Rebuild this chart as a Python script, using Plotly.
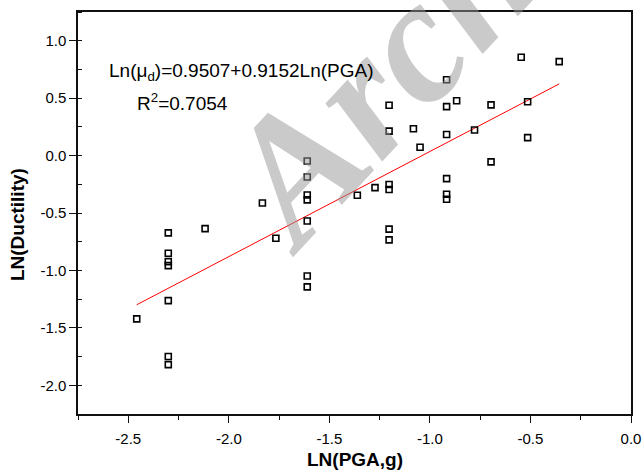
import plotly.graph_objects as go

# ---- data ----
pga_ln = [-2.458, -2.301, -2.301, -2.301, -2.301, -2.301, -2.301, -2.301,
          -2.118, -1.833, -1.766,
          -1.610, -1.610, -1.610, -1.610, -1.610, -1.610, -1.610,
          -1.361, -1.273,
          -1.203, -1.203, -1.203, -1.203, -1.203, -1.203,
          -1.082, -1.049,
          -0.917, -0.917, -0.917, -0.917, -0.917, -0.917,
          -0.867, -0.778, -0.696, -0.696, -0.546, -0.514, -0.514, -0.357]
ductility_ln = [-1.422, -0.673, -0.850, -0.923, -0.958, -1.263, -1.750, -1.820,
                -0.636, -0.413, -0.720,
                -0.047, -0.186, -0.343, -0.386, -0.569, -1.049, -1.143,
                -0.345, -0.279,
                0.438, 0.213, -0.252, -0.295, -0.640, -0.734,
                0.234, 0.073,
                0.660, 0.426, 0.184, -0.201, -0.337, -0.380,
                0.477, 0.223, 0.441, -0.055, 0.856, 0.469, 0.156, 0.818]

fit_intercept = 0.9507
fit_slope = 0.9152
r_squared = 0.7054

x_tick_vals = [-2.5, -2.0, -1.5, -1.0, -0.5, 0.0]
x_tick_text = ["-2.5", "-2.0", "-1.5", "-1.0", "-0.5", "0.0"]
y_tick_vals = [-2.0, -1.5, -1.0, -0.5, 0.0, 0.5, 1.0]
y_tick_text = ["-2.0", "-1.5", "-1.0", "-0.5", "0.0", "0.5", "1.0"]

fit_x = [min(pga_ln), max(pga_ln)]
fit_y = [fit_intercept + fit_slope * v for v in fit_x]

FONT = "Liberation Sans, Arial, sans-serif"

fig = go.Figure()
fig.add_trace(go.Scatter(
    x=fit_x, y=fit_y, mode="lines",
    line=dict(color="red", width=1), hoverinfo="skip", showlegend=False))
fig.add_trace(go.Scatter(
    x=pga_ln, y=ductility_ln, mode="markers",
    marker=dict(symbol="square-open", size=6, color="black",
                line=dict(color="black", width=1.6)),
    showlegend=False))

axis_common = dict(
    showgrid=False, zeroline=False, showline=True, linecolor="#111",
    linewidth=1.5, mirror=True, ticks="outside", ticklen=7, tickwidth=1.2,
    tickcolor="#111", tickfont=dict(family=FONT, size=15, color="black"),
    automargin=False,
)

fig.update_xaxes(range=[-2.75, 0.0], tickvals=x_tick_vals, ticktext=x_tick_text,
                 ticklabelstandoff=3,
                 minor=dict(ticks="outside", ticklen=4, tickwidth=1.2,
                            tickcolor="#111", dtick=0.25, tick0=0),
                 **axis_common)
fig.update_yaxes(range=[-2.25, 1.25], tickvals=y_tick_vals, ticktext=y_tick_text,
                 minor=dict(ticks="inside", ticklen=4, tickwidth=1.2,
                            tickcolor="#111", dtick=0.25, tick0=0),
                 **axis_common)

annotations = [
    # watermark
    dict(text="<b><i>Archive of SID</i></b>", xref="paper", yref="paper",
         x=0.993, y=1.5, xanchor="center", yanchor="middle", showarrow=False,
         textangle=-47,
         font=dict(family="Liberation Serif, Times New Roman, serif", size=177,
                   color="rgba(150,150,150,0.5)")),
    dict(text="Ln(\u03bc<sub>d</sub>)=0.9507+0.9152Ln(PGA)", xref="paper", yref="paper",
         x=0.052, y=0.8515, xanchor="left", yanchor="middle", showarrow=False,
         font=dict(family=FONT, size=19, color="black")),
    dict(text="R<sup>2</sup>=%.4f" % r_squared, xref="paper", yref="paper",
         x=0.103, y=0.776, xanchor="left", yanchor="middle", showarrow=False,
         font=dict(family=FONT, size=19, color="black")),
    dict(text="<b>LN(PGA,g)</b>", xref="paper", yref="paper",
         x=0.5, y=-0.1144, xanchor="center", yanchor="middle", showarrow=False,
         font=dict(family=FONT, size=19, color="black")),
    dict(text="<b>LN(Ductility)</b>", xref="paper", yref="paper",
         x=-0.1103, y=0.47, xanchor="center", yanchor="middle", showarrow=False,
         textangle=-90, font=dict(family=FONT, size=19, color="black")),
]

fig.update_layout(
    width=642, height=472,
    margin=dict(l=78, r=11, t=12, b=58),
    plot_bgcolor="white", paper_bgcolor="white",
    annotations=annotations,
    showlegend=False,
)

fig.write_html("out.html")
